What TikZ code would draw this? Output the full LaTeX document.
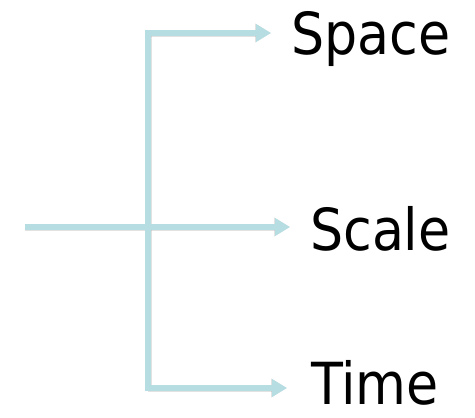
\documentclass[tikz,border=0pt]{standalone}
\usepackage{fontspec}
\newfontfamily\labfont{DejaVu Sans Condensed}
\usetikzlibrary{arrows.meta}
\definecolor{linecyan}{RGB}{181,221,226}
\tikzset{
  conn/.style={draw=linecyan, line width=6pt, -{Triangle[length=15pt,width=17pt]}},
  connshadow/.style={draw=black!45, opacity=0.25, line width=7pt, -{Triangle[length=16pt,width=18pt]}},
  plainconn/.style={draw=linecyan, line width=6pt},
  plainshadow/.style={draw=black!45, opacity=0.25, line width=7pt},
  lab/.style={anchor=base west, inner sep=0pt, font=\labfont\fontsize{58}{70}\selectfont}
}
\begin{document}
\begin{tikzpicture}[x=1pt,y=-1pt]
\useasboundingbox (0,0) rectangle (475,418);
% labels
\node[lab] (space) at (291,54) {Space};
\node[lab] (scale) at (310,250) {Scale};
\node[lab] (time)  at (311,404) {Time};
% junction coordinates
\coordinate (ctop) at (148,33);
\coordinate (cmid) at (148,227);
\coordinate (cbot) at (148,388);
\coordinate (tstart) at (25,227);
\coordinate (ttop) at (271,33);
\coordinate (tmid) at (290,227);
\coordinate (tbot) at (287,388);
% shadows
\begin{scope}[shift={(1.5,2.5)}]
\draw[plainshadow] (ctop) -- (cbot);
\draw[connshadow] (ctop) -- (ttop);
\draw[connshadow] (cbot) -- (tbot);
\draw[connshadow] (tstart) -- (tmid);
\end{scope}
% connectors
\draw[plainconn] (ctop) -- (cbot);
\draw[conn] ([xshift=-3pt]ctop) -- (ttop);
\draw[conn] ([xshift=-3pt]cbot) -- (tbot);
\draw[conn] (tstart) -- (tmid);
\end{tikzpicture}
\end{document}
